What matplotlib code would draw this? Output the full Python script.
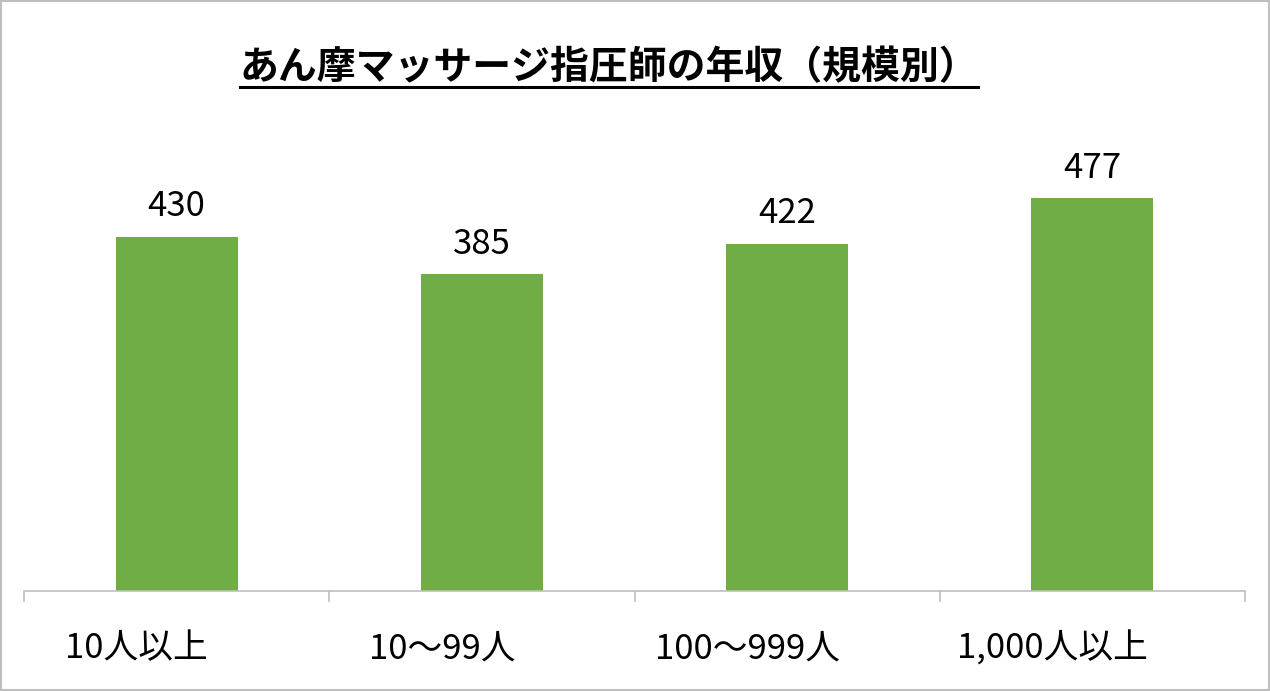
import matplotlib
matplotlib.use("Agg")
import matplotlib.pyplot as plt
from matplotlib.transforms import offset_copy
import numpy as np

categories = ["10人以上", "10～99人", "100～999人", "1,000人以上"]
income = [430, 385, 422, 477]

title = "あん摩マッサージ指圧師の年収（規模別）"

plt.rcParams['font.family'] = ['Noto Sans CJK JP', 'DejaVu Sans']

fig = plt.figure(figsize=(12.7, 6.91), dpi=100)
ax = fig.add_axes([24 / 1270, 1 - 591 / 691, (1245 - 24) / 1270, 494 / 691])

x = np.arange(len(categories))
bars = ax.bar(x, income, width=0.4, color="#70AD47")

ax.set_xlim(-0.5, len(categories) - 0.5)
ax.set_ylim(0, 600)
ax.set_yticks([])
for side in ["top", "right", "left"]:
    ax.spines[side].set_visible(False)
ax.spines["bottom"].set_color("#BFBFBF")
ax.spines["bottom"].set_linewidth(1.2)

ax.set_xticks(x)
ax.set_xticklabels(categories, fontsize=25)
ax.tick_params(axis="x", which="major", length=0, pad=29)
for lab in ax.get_xticklabels():
    lab.set_transform(offset_copy(lab.get_transform(), fig=fig, x=-40, y=0, units="dots"))
ax.set_xticks(np.arange(-0.5, len(categories)), minor=True)
ax.tick_params(axis="x", which="minor", length=8, width=1.2, color="#BFBFBF")

for rect, v in zip(bars, income):
    ax.annotate(str(v), xy=(rect.get_x() + rect.get_width() / 2, v),
                xytext=(0, 9), textcoords="offset points",
                ha="center", va="bottom", fontsize=25)

t = fig.text(609 / 1270, 1 - 68 / 691, title, ha="center", va="center",
             fontsize=28, fontweight="bold")

# underline the title
fig.canvas.draw()
bb = t.get_window_extent().transformed(fig.transFigure.inverted())
fig.add_artist(plt.Line2D([bb.x0, bb.x1], [1 - 87 / 691] * 2, color="black",
                          linewidth=2.2, transform=fig.transFigure))

# light border around the chart
fig.add_artist(plt.Rectangle((0.001, 0.001), 0.998, 0.997, fill=False,
                             edgecolor="#BFBFBF", linewidth=1.5,
                             transform=fig.transFigure))

fig.savefig("out.png", dpi=100)
